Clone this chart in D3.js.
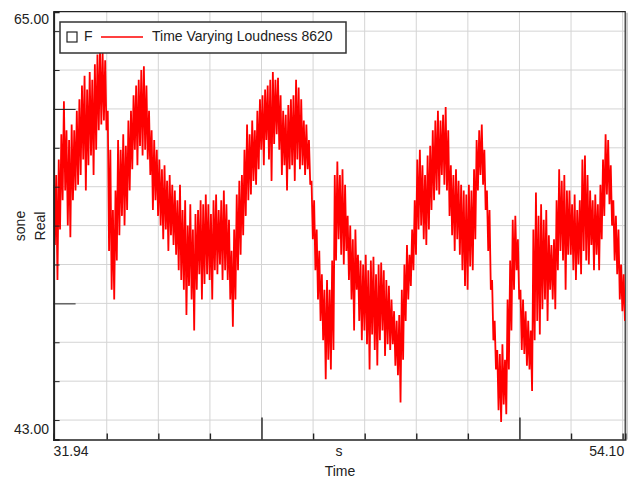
<!DOCTYPE html>
<html>
<head>
<meta charset="utf-8">
<script src="https://cdn.jsdelivr.net/npm/d3@7"></script>
<style>
  body { margin: 0; background: #fff; }
  text { font-family: "Liberation Sans", Arial, sans-serif; fill: #222; }
  .grid line { stroke: #d4d4d4; stroke-width: 1; }
  .axis path, .axis line { stroke: #222; }
</style>
</head>
<body>
<svg width="628" height="483"></svg>
<script>
// time of first sample and spacing (s)
var t0 = 31.94, step = 0.1;

// upper peaks of the loudness trace, one per 0.1 s (sone)
var hiValues = [
  56.1, 56.6, 57.4, 58.7, 60.4, 58.9, 58.4, 59.2, 58.9, 59.9,
  60.5, 61.2, 61.7, 61.0, 61.9, 61.5, 62.3, 62.8, 63.1, 62.9,
  62.5, 59.9, 57.9, 54.8, 55.8, 58.4, 57.9, 58.7, 58.1, 59.4,
  59.9, 60.7, 61.2, 61.5, 62.0, 62.2, 61.2, 59.9, 58.9, 58.4,
  57.9, 57.4, 56.9, 57.1, 56.3, 56.6, 56.1, 55.8, 55.3, 56.1,
  54.8, 55.3, 54.0, 55.1, 53.8, 54.6, 54.8, 55.3, 55.1, 55.6,
  55.1, 54.6, 55.3, 55.6, 54.8, 55.3, 55.8, 55.1, 54.3, 52.7,
  53.8, 55.6, 56.3, 56.6, 57.9, 59.2, 58.7, 59.4, 58.9, 59.9,
  60.5, 60.7, 61.0, 61.2, 61.5, 61.9, 61.5, 61.6, 60.7, 59.9,
  59.7, 60.2, 60.5, 60.7, 61.5, 61.1, 60.5, 59.4, 59.2, 58.4,
  56.3, 55.3, 53.8, 52.7, 51.5, 50.7, 51.2, 50.7, 52.2, 56.6,
  57.3, 56.6, 56.9, 56.1, 54.5, 54.0, 53.3, 53.8, 52.5, 52.2,
  52.0, 52.5, 51.7, 52.2, 52.4, 51.5, 52.0, 52.1, 51.7, 51.2,
  50.9, 50.2, 49.6, 49.1, 49.4, 50.7, 52.0, 53.0, 52.5, 53.8,
  55.3, 57.4, 57.9, 57.1, 56.6, 57.6, 58.1, 58.9, 59.4, 59.9,
  59.4, 59.7, 60.1, 58.9, 57.1, 56.6, 56.9, 56.3, 56.1, 55.8,
  55.6, 56.1, 55.8, 56.9, 58.4, 58.9, 59.2, 57.9, 55.8, 54.8,
  51.2, 49.1, 47.6, 47.4, 47.9, 47.1, 50.2, 52.2, 54.3, 54.5,
  53.3, 50.7, 50.2, 49.6, 49.1, 48.6, 53.8, 55.7, 54.5, 55.1,
  54.3, 54.8, 53.5, 53.0, 53.3, 55.3, 56.9, 56.3, 56.6, 55.8,
  55.8, 55.1, 55.6, 54.8, 55.3, 57.4, 57.6, 56.6, 55.8, 55.3,
  55.6, 55.1, 56.1, 57.4, 58.7, 58.4, 57.1, 55.3, 54.5, 53.8,
  52.0, 51.5
];

// lower dips, half a step after each peak (sone)
var loValues = [
  53.0, 51.2, 53.8, 55.3, 55.8, 54.0, 53.4, 55.3, 55.8, 56.1,
  56.6, 57.4, 55.8, 57.1, 57.6, 56.6, 57.9, 58.9, 59.2, 59.4,
  58.9, 52.7, 50.7, 50.2, 52.2, 53.5, 54.5, 54.0, 54.8, 55.8,
  56.9, 57.9, 57.1, 58.1, 57.6, 57.9, 57.4, 56.6, 54.8, 55.3,
  54.5, 54.0, 53.3, 53.8, 52.7, 53.5, 53.0, 52.5, 51.7, 51.2,
  50.7, 49.4, 50.9, 50.2, 48.6, 50.7, 51.5, 50.2, 51.0, 51.5,
  51.2, 50.2, 51.7, 51.5, 52.0, 51.2, 51.7, 51.2, 50.2, 48.8,
  50.2, 51.7, 52.5, 53.5, 54.5, 55.3, 55.6, 56.3, 56.1, 56.9,
  57.9, 57.1, 58.4, 57.4, 56.3, 58.2, 58.7, 57.9, 56.6, 57.1,
  55.8, 56.9, 57.1, 56.3, 57.4, 56.9, 57.1, 56.6, 56.9, 56.1,
  53.3, 51.7, 50.2, 49.1, 48.1, 46.1, 47.1, 46.6, 47.6, 52.2,
  53.3, 52.5, 52.0, 52.7, 51.2, 50.2, 48.6, 50.7, 49.1, 48.1,
  48.6, 47.9, 46.6, 48.4, 47.6, 46.8, 48.1, 48.6, 47.3, 47.9,
  47.6, 47.9, 46.8, 46.3, 44.9, 47.1, 49.1, 50.2, 50.9, 51.7,
  52.5, 53.8, 54.0, 53.3, 53.0, 53.8, 54.8, 55.3, 55.8, 55.6,
  56.6, 56.1, 55.8, 54.5, 53.5, 52.7, 53.3, 52.5, 51.7, 50.9,
  50.7, 51.9, 51.7, 53.3, 55.8, 56.6, 56.1, 54.8, 52.7, 50.7,
  48.1, 46.6, 44.5, 43.9, 44.8, 44.3, 46.6, 48.6, 50.7, 51.7,
  50.2, 47.6, 47.4, 46.8, 46.6, 45.5, 48.1, 49.1, 48.4, 49.7,
  50.2, 49.1, 50.7, 50.2, 49.7, 51.7, 52.7, 52.2, 50.7, 52.5,
  52.5, 51.7, 51.2, 52.0, 51.5, 52.7, 52.2, 52.0, 53.0, 51.7,
  52.5, 51.7, 53.3, 54.5, 55.6, 55.1, 54.0, 52.2, 51.5, 50.2,
  49.6, 49.1
];

var xDomain = [31.94, 54.10];
var yDomain = [43, 65];
var xGrid = [34, 36, 38, 40, 42, 44, 46, 48, 50, 52, 54];
var yGrid = [44, 46, 48, 50, 52, 54, 56, 58, 60, 62, 64];
var xMajor = [40, 50];
var yMajor = [50, 60];
var seriesName = "Time Varying Loudness 8620";

var svg = d3.select("svg");
var pLeft = 53.6, pRight = 625.2, pTop = 11.7, pBottom = 439.5;

var x = d3.scaleLinear().domain(xDomain).range([pLeft, pRight]);
var y = d3.scaleLinear().domain(yDomain).range([pBottom, pTop]);

// grid
var grid = svg.append("g").attr("class", "grid");
grid.selectAll("line.v").data(xGrid).enter().append("line").attr("class", "v")
  .attr("x1", d => x(d)).attr("x2", d => x(d))
  .attr("y1", pTop).attr("y2", pBottom);
grid.selectAll("line.h").data(yGrid).enter().append("line").attr("class", "h")
  .attr("x1", pLeft).attr("x2", pRight)
  .attr("y1", d => y(d)).attr("y2", d => y(d));

// box outline (top + right) and the light shadow on the right
svg.append("path")
  .attr("d", "M" + pLeft + "," + pTop + "H" + pRight + "V" + pBottom)
  .attr("fill", "none").attr("stroke", "#222").attr("stroke-width", 1.2);
svg.append("line")
  .attr("x1", pRight + 1.8).attr("x2", pRight + 1.8)
  .attr("y1", pTop + 1).attr("y2", pBottom)
  .attr("stroke", "#bbb").attr("stroke-width", 1.5);

// the trace: each peak followed by its dip
var series = [];
hiValues.forEach(function(v, i) {
  var t = t0 + i * step;
  series.push([t, v]);
  if (i < loValues.length) series.push([t + step / 2, loValues[i]]);
});

svg.append("clipPath").attr("id", "clip")
  .append("rect").attr("x", pLeft).attr("y", pTop)
  .attr("width", pRight - pLeft).attr("height", pBottom - pTop);

var line = d3.line().x(d => x(d[0])).y(d => y(d[1]));
svg.append("path")
  .datum(series)
  .attr("clip-path", "url(#clip)")
  .attr("d", line)
  .attr("fill", "none")
  .attr("stroke", "#ff0000")
  .attr("stroke-width", 1.8);

// axes, ticks pointing into the plot
var yAxis = d3.axisRight(y).tickValues(yGrid).tickSize(6).tickFormat("");
var gy = svg.append("g").attr("class", "axis")
  .attr("transform", "translate(" + pLeft + ",0)")
  .call(yAxis);
gy.select(".domain").attr("stroke-width", 2);
gy.selectAll(".tick line").filter(d => yMajor.indexOf(d) >= 0).attr("x2", 22);

var xAxis = d3.axisTop(x).tickValues(xGrid).tickSize(6).tickFormat("");
var gx = svg.append("g").attr("class", "axis")
  .attr("transform", "translate(0," + pBottom + ")")
  .call(xAxis);
gx.select(".domain").attr("stroke-width", 1.6);
gx.selectAll(".tick line").attr("stroke-width", 1.4)
  .filter(d => xMajor.indexOf(d) >= 0).attr("y2", -22);

// end labels
svg.append("text").attr("x", 49).attr("y", y(yDomain[1]) + 8.5)
  .attr("text-anchor", "end").attr("dominant-baseline", "middle")
  .attr("font-size", 14).text(yDomain[1].toFixed(2));
svg.append("text").attr("x", 49).attr("y", y(yDomain[0]) - 9.5)
  .attr("text-anchor", "end").attr("dominant-baseline", "middle")
  .attr("font-size", 14).text(yDomain[0].toFixed(2));
svg.append("text").attr("x", x(xDomain[0])).attr("y", 452)
  .attr("dominant-baseline", "middle")
  .attr("font-size", 14).text(xDomain[0].toFixed(2));
svg.append("text").attr("x", x(xDomain[1]) - 1).attr("y", 452)
  .attr("text-anchor", "end").attr("dominant-baseline", "middle")
  .attr("font-size", 14).text(xDomain[1].toFixed(2));

// axis titles
svg.append("text").attr("x", 339).attr("y", 452)
  .attr("text-anchor", "middle").attr("dominant-baseline", "middle")
  .attr("font-size", 14).text("s");
svg.append("text").attr("x", 340).attr("y", 472)
  .attr("text-anchor", "middle").attr("dominant-baseline", "middle")
  .attr("font-size", 14).text("Time");
svg.append("text").attr("transform", "translate(21,226) rotate(-90)")
  .attr("text-anchor", "middle").attr("dominant-baseline", "middle")
  .attr("font-size", 14).text("sone");
svg.append("text").attr("transform", "translate(41,226) rotate(-90)")
  .attr("text-anchor", "middle").attr("dominant-baseline", "middle")
  .attr("font-size", 14).text("Real");

// legend
var lg = svg.append("g").attr("transform", "translate(60,22)");
lg.append("rect").attr("width", 286).attr("height", 31)
  .attr("fill", "#fff").attr("stroke", "#333").attr("stroke-width", 1.5);
lg.append("rect").attr("x", 7).attr("y", 10).attr("width", 10).attr("height", 10)
  .attr("fill", "none").attr("stroke", "#222").attr("stroke-width", 1.2);
lg.append("text").attr("x", 24).attr("y", 15.5)
  .attr("dominant-baseline", "middle").attr("font-size", 14).text("F");
lg.append("line").attr("x1", 41).attr("x2", 83).attr("y1", 15).attr("y2", 15)
  .attr("stroke", "#ff0000").attr("stroke-width", 1.6);
lg.append("text").attr("x", 92).attr("y", 15.5)
  .attr("dominant-baseline", "middle").attr("font-size", 14).text(seriesName);
</script>
</body>
</html>
